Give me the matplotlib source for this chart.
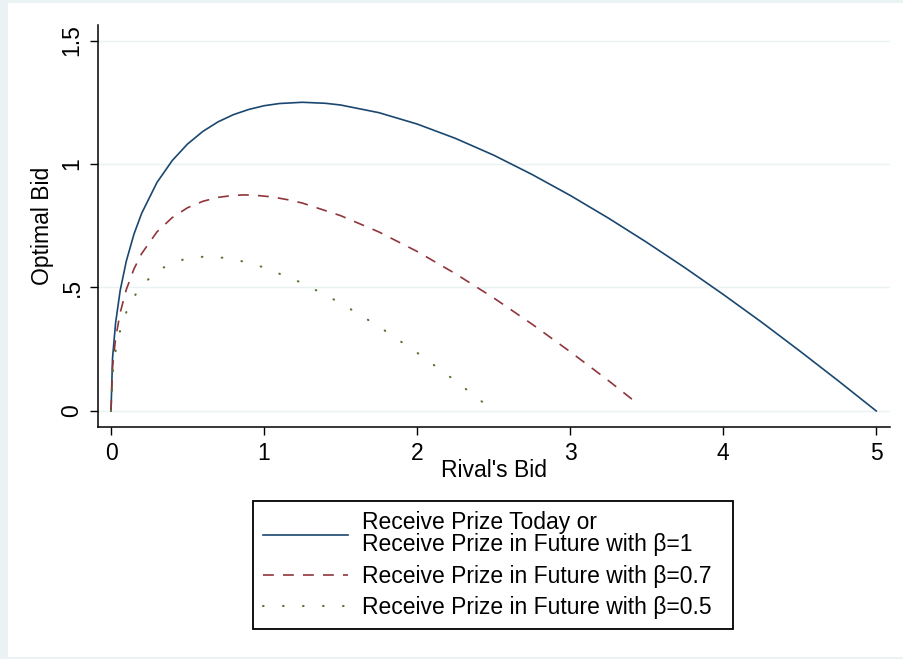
import matplotlib
matplotlib.use('Agg')
import matplotlib.pyplot as plt
from matplotlib.patches import Rectangle

plt.rcParams['font.family'] = ['Liberation Sans', 'DejaVu Sans']
plt.rcParams['font.size'] = 16.5

# values: rival's bid -> optimal bid
x_today = [0, 0.01, 0.03, 0.06, 0.1, 0.15, 0.2, 0.3, 0.4, 0.5, 0.6, 0.7, 0.8, 0.9, 1.0, 1.1,
           1.25, 1.4, 1.5, 1.75, 2.0, 2.25, 2.5, 2.75, 3.0, 3.25, 3.5, 3.75, 4.0, 4.25, 4.5,
           4.75, 5.0]
y_today = [0, 0.214, 0.357, 0.488, 0.607, 0.716, 0.800, 0.925, 1.014, 1.081, 1.132, 1.171,
           1.200, 1.221, 1.236, 1.245, 1.250, 1.246, 1.239, 1.208, 1.162, 1.104, 1.036, 0.958,
           0.873, 0.781, 0.683, 0.580, 0.472, 0.360, 0.243, 0.123, 0]

x_b07 = [0, 0.01, 0.03, 0.06, 0.1, 0.15, 0.2, 0.3, 0.4, 0.5, 0.6, 0.7, 0.8, 0.875, 0.95, 1.05,
         1.15, 1.25, 1.5, 1.75, 2.0, 2.25, 2.5, 2.75, 3.0, 3.25, 3.45]
y_b07 = [0, 0.177, 0.294, 0.398, 0.492, 0.575, 0.637, 0.725, 0.783, 0.823, 0.849, 0.865,
         0.873, 0.875, 0.873, 0.867, 0.856, 0.842, 0.791, 0.725, 0.646, 0.556, 0.458, 0.352,
         0.240, 0.123, 0.025]

x_b05 = [0, 0.01, 0.03, 0.06, 0.1, 0.15, 0.2, 0.3, 0.4, 0.5, 0.56, 0.625, 0.7, 0.8, 0.9, 1.0,
         1.25, 1.5, 1.75, 2.0, 2.25, 2.45]
y_b05 = [0, 0.148, 0.244, 0.327, 0.400, 0.462, 0.507, 0.566, 0.600, 0.618, 0.623, 0.625,
         0.623, 0.614, 0.600, 0.581, 0.518, 0.437, 0.342, 0.236, 0.122, 0.025]

labels = ['Receive Prize Today or\nReceive Prize in Future with \u03b2=1',
          'Receive Prize in Future with \u03b2=0.7',
          'Receive Prize in Future with \u03b2=0.5']

x_ticks = [0, 1, 2, 3, 4, 5]
y_ticks = [0, 0.5, 1, 1.5]
y_ticklabels = ['0', '.5', '1', '1.5']

W, H = 904, 659
fig = plt.figure(figsize=(W / 100, H / 100), dpi=100, facecolor='#EAF2F3')
fig.patches.append(Rectangle((8 / W, 2 / H), 896 / W, 654 / H, transform=fig.transFigure,
                             facecolor='white', edgecolor='none', zorder=-10))

ax = fig.add_axes([98 / W, (H - 427) / H, 792 / W, 402 / H])
ax.set_facecolor('white')

ax.plot(x_today, y_today, color='#1a476f', lw=1.2, label=labels[0])
ax.plot(x_b07, y_b07, color='#90353b', lw=1.2, linestyle=(0, (6.5, 5.5)), label=labels[1])
ax.plot(x_b05, y_b05, color='#55752f', lw=1.5, linestyle=(0, (0.3, 9.3)),
        dash_capstyle='round', label=labels[2])

ax.set_xlim(-0.085, 5.09)
ax.set_ylim(-0.065, 1.563)
ax.set_xticks(x_ticks)
ax.set_yticks(y_ticks)
ax.set_yticklabels(y_ticklabels)
ax.grid(axis='y', color='#EAF2F3', lw=1)
ax.set_axisbelow(True)

for s in ['top', 'right']:
    ax.spines[s].set_visible(False)
for s in ['left', 'bottom']:
    ax.spines[s].set_linewidth(1.1)
    ax.spines[s].set_color('black')

ax.tick_params(direction='out', length=6, width=1, pad=4.5, labelsize=16.5)
ax.tick_params(axis='y', labelrotation=90)
for t in ax.get_yticklabels():
    t.set_va('center')

ax.set_xlabel("Rival's Bid", fontsize=16.5)
ax.set_ylabel('Optimal Bid', fontsize=16.5)
ax.xaxis.set_label_coords(0.5, -0.08)
ax.yaxis.set_label_coords(-0.056, 0.5)

leg = fig.legend(loc='upper center', bbox_to_anchor=(253 / W, 0, 480 / W, (H - 501) / H),
                 mode='expand', fontsize=16.5,
                 frameon=True, fancybox=False, framealpha=1, edgecolor='black',
                 handlelength=3.7, handletextpad=0.6, borderpad=0.45, labelspacing=0.36,
                 borderaxespad=0)
leg.get_frame().set_linewidth(1.3)
for t in leg.get_texts():
    t.set_linespacing(0.95)

fig.savefig('out.png', dpi=100, facecolor=fig.get_facecolor())
